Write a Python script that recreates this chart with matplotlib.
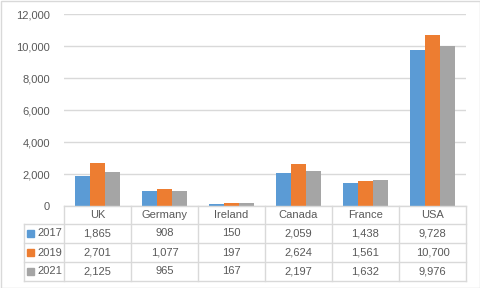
import matplotlib.pyplot as plt
import numpy as np
from matplotlib.lines import Line2D
from matplotlib.patches import Rectangle
from matplotlib.ticker import FuncFormatter

countries = ["UK", "Germany", "Ireland", "Canada", "France", "USA"]
years = ["2017", "2019", "2021"]
v2017 = [1865, 908, 150, 2059, 1438, 9728]
v2019 = [2701, 1077, 197, 2624, 1561, 10700]
v2021 = [2125, 965, 167, 2197, 1632, 9976]
series = [v2017, v2019, v2021]
colors = ["#5B9BD5", "#ED7D31", "#A5A5A5"]

W, H = 481, 288
TXT = "#595959"
GRID = "#D9D9D9"
plt.rcParams["font.family"] = ["Liberation Sans", "DejaVu Sans"]

fig = plt.figure(figsize=(W / 100, H / 100), dpi=100)
fig.patches.append(Rectangle((0.5 / W, 0.5 / H), 1 - 1.5 / W, 1 - 1.5 / H,
                             transform=fig.transFigure, fill=False,
                             edgecolor=GRID, linewidth=1))

# plot area in pixels
left, right, top, bottom = 64, 466, 14, 206
ax = fig.add_axes([left / W, 1 - bottom / H, (right - left) / W, (bottom - top) / H])

x = np.arange(len(countries))
bw = 0.224
for i, (vals, c) in enumerate(zip(series, colors)):
    ax.bar(x + (i - 1) * bw, vals, bw, color=c, zorder=3)

ax.set_xlim(-0.5, len(countries) - 0.5)
ax.set_ylim(0, 12000)
ax.set_yticks(range(0, 12001, 2000))
ax.yaxis.set_major_formatter(FuncFormatter(lambda v, p: f"{int(v):,}"))
ax.grid(axis="y", color=GRID, linewidth=1, zorder=0)
ax.tick_params(axis="y", length=0, pad=10, labelsize=8, labelcolor=TXT)
ax.set_xticks([])
for s in ax.spines.values():
    s.set_visible(False)


def fy(py):
    return 1 - py / H


def fx(px):
    return px / W


# data table below the plot
rows = [206, 224, 243, 262, 281]
col_w = (right - left) / len(countries)
tbl_left = 24
lk = dict(transform=fig.transFigure, color=GRID, linewidth=1)
fig.add_artist(Line2D([fx(left), fx(right)], [fy(rows[0])] * 2, **lk))
for r in rows[1:]:
    fig.add_artist(Line2D([fx(tbl_left), fx(right)], [fy(r)] * 2, **lk))
for k in range(len(countries) + 1):
    xx = left + k * col_w
    fig.add_artist(Line2D([fx(xx)] * 2, [fy(rows[0]), fy(rows[-1])], **lk))
fig.add_artist(Line2D([fx(tbl_left)] * 2, [fy(rows[1]), fy(rows[-1])], **lk))

tk = dict(ha="center", va="center", fontsize=8, color=TXT)
for k, name in enumerate(countries):
    cx = fx(left + (k + 0.5) * col_w)
    fig.text(cx, fy((rows[0] + rows[1]) / 2), name, **tk)
    for j, vals in enumerate(series):
        fig.text(cx, fy((rows[j + 1] + rows[j + 2]) / 2), f"{vals[k]:,}", **tk)

for j, (yr, c) in enumerate(zip(years, colors)):
    cy = (rows[j + 1] + rows[j + 2]) / 2
    fig.patches.append(Rectangle((fx(27), fy(cy + 3.5)), 7 / W, 7 / H,
                                 transform=fig.transFigure, color=c))
    fig.text(fx(37), fy(cy), yr, ha="left", va="center", fontsize=8, color=TXT)

fig.savefig("out.png", dpi=100)
